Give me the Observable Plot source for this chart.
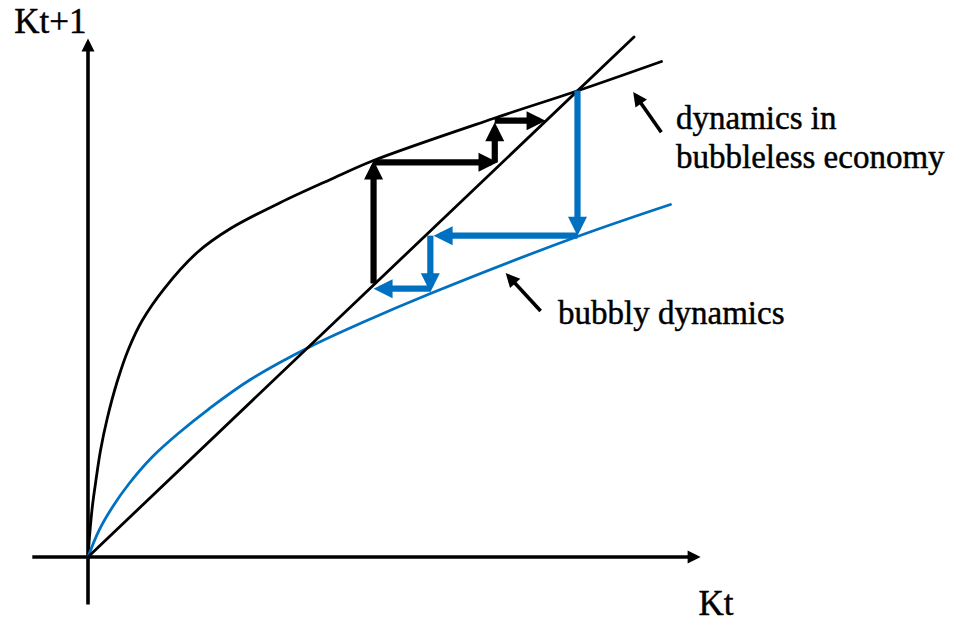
<!DOCTYPE html>
<html>
<head>
<meta charset="utf-8">
<script src="https://cdn.jsdelivr.net/npm/d3@7"></script>
<script src="https://cdn.jsdelivr.net/npm/@observablehq/plot@0.6"></script>
<style>
  html, body { margin: 0; padding: 0; background: #fff; }
  #chart svg { display: block; }
</style>
</head>
<body>
<div id="chart"></div>
<script>
// ---- Data (capital today Kt -> capital tomorrow Kt+1, diagram units, 45° line is y = x) ----
const bubblelessK    = [0, 0.37, 0.82, 1.37, 2.29, 3.52, 5.35, 7.47, 9.93, 13.83, 20.0, 26.1, 35.26, 44.41, 52.29, 74.27, 89.83, 105.04];
const bubblelessNext = [0, 5.10, 9.90, 14.13, 20.48, 26.63, 33.75, 40.10, 45.48, 51.44, 58.56, 63.17, 68.17, 72.6, 76.25, 84.33, 89.71, 95.29];

const bubblyK    = [0, 1.98, 4.43, 7.47, 11.76, 16.63, 22.12, 29.76, 40.75, 50.46, 62.73, 89.65, 106.68];
const bubblyNext = [0, 5.04, 9.52, 14.04, 19.23, 23.85, 28.46, 34.13, 40.48, 45.19, 50.67, 61.63, 67.79];

const diagonalK = [0, 100];

// cobweb steps: start (x1,y1) -> arrow tip (x2,y2)
const blackStepX1 = [52.3, 52.3, 74.5, 74.5];
const blackStepY1 = [52.6, 75.9, 75.9, 83.9];
const blackStepX2 = [52.3, 75.0, 74.5, 83.8];
const blackStepY2 = [76.25, 75.9, 83.6, 83.9];

const blueStepX1 = [89.65, 89.65, 62.7, 62.7];
const blueStepY1 = [89.7, 61.8, 61.8, 51.6];
const blueStepX2 = [89.65, 63.3, 62.7, 52.3];
const blueStepY2 = [61.8, 61.8, 50.9, 51.6];

// axes (x axis, y axis)
const axisX1 = [-10.2, 0];
const axisY1 = [0, -9.13];
const axisX2 = [112.2, 0];
const axisY2 = [0, 99.7];

// pointer arrows to the curve labels
const pointerX1 = [105.0, 82.9];
const pointerY1 = [81.7, 47.3];
const pointerX2 = [99.85, 76.5];
const pointerY2 = [89.4, 54.6];

// axis titles
const axisTitleText = ["Kt+1", "Kt"];
const axisTitleX = [-13.5, 111.8];
const axisTitleY = [100.7, -11.06];

// curve annotations
const noteText = ["dynamics in\nbubbleless economy", "bubbly dynamics"];
const noteX = [107.7, 86.1];
const noteY = [74.9, 44.9];

// ---- Layout ----
const W = 958, H = 626;
const OX = 87.5, OY = 556.5;   // origin in pixels
const PXX = 5.46, PXY = 5.2;   // pixels per unit
const BLUE = "#0070C0";
const ns = "http://www.w3.org/2000/svg";

function head(L, Wd, sw) {
  return (color, context) => {
    const doc = (context && context.document) || document;
    const m = doc.createElementNS(ns, "marker");
    m.setAttribute("viewBox", `0 ${-Wd} ${L} ${2 * Wd}`);
    m.setAttribute("markerUnits", "userSpaceOnUse");
    m.setAttribute("markerWidth", L);
    m.setAttribute("markerHeight", 2 * Wd);
    m.setAttribute("refX", L - sw);
    m.setAttribute("refY", 0);
    m.setAttribute("orient", "auto");
    m.setAttribute("overflow", "visible");
    const p = doc.createElementNS(ns, "path");
    p.setAttribute("d", `M0,${-Wd}L${L},0L0,${Wd}Z`);
    p.setAttribute("fill", color);
    p.setAttribute("stroke", "none");
    m.appendChild(p);
    return m;
  };
}

// shaft ends a little behind the tip so the filled head covers it
function segs(x1, y1, x2, y2, back) {
  return x1.map((_, i) => {
    const dxp = (x2[i] - x1[i]) * PXX, dyp = (y2[i] - y1[i]) * PXY;
    const len = Math.hypot(dxp, dyp);
    return {
      x1: x1[i], y1: y1[i],
      x2: x2[i] - (dxp / len) * back / PXX,
      y2: y2[i] - (dyp / len) * back / PXY
    };
  });
}

const bubbleless = bubblelessK.map((k, i) => ({k, v: bubblelessNext[i]}));
const bubbly = bubblyK.map((k, i) => ({k, v: bubblyNext[i]}));
const diagonal = diagonalK.map((k) => ({k, v: k}));
const axisTitles = axisTitleText.map((t, i) => ({t, x: axisTitleX[i], y: axisTitleY[i]}));
const notes = noteText.map((t, i) => ({t, x: noteX[i], y: noteY[i]}));

const axisSW = 3.6, stepSW = 6.2, ptrSW = 3.6;
const FONT = "'Liberation Serif', 'Times New Roman', serif";

const chart = Plot.plot({
  width: W,
  height: H,
  margin: 0,
  style: {background: "#fff", overflow: "visible"},
  x: {domain: [-OX / PXX, (W - OX) / PXX], range: [0, W], axis: null},
  y: {domain: [-(H - OY) / PXY, OY / PXY], range: [H, 0], axis: null},
  marks: [
    Plot.link(segs(axisX1, axisY1, axisX2, axisY2, axisSW), {
      x1: "x1", y1: "y1", x2: "x2", y2: "y2",
      stroke: "black", strokeWidth: axisSW, markerEnd: head(13, 6.5, axisSW)
    }),
    Plot.line(bubbleless, {x: "k", y: "v", curve: "catmull-rom", stroke: "black", strokeWidth: 2.8}),
    Plot.line(bubbly, {x: "k", y: "v", curve: "catmull-rom", stroke: BLUE, strokeWidth: 2.8}),
    Plot.line(diagonal, {x: "k", y: "v", stroke: "black", strokeWidth: 2.8}),
    Plot.link(segs(blackStepX1, blackStepY1, blackStepX2, blackStepY2, stepSW), {
      x1: "x1", y1: "y1", x2: "x2", y2: "y2",
      stroke: "black", strokeWidth: stepSW, markerEnd: head(19, 9.5, stepSW)
    }),
    Plot.link(segs(blueStepX1, blueStepY1, blueStepX2, blueStepY2, stepSW), {
      x1: "x1", y1: "y1", x2: "x2", y2: "y2",
      stroke: BLUE, strokeWidth: stepSW, markerEnd: head(19, 9.5, stepSW)
    }),
    Plot.link(segs(pointerX1, pointerY1, pointerX2, pointerY2, ptrSW), {
      x1: "x1", y1: "y1", x2: "x2", y2: "y2",
      stroke: "black", strokeWidth: ptrSW, markerEnd: head(14, 7, ptrSW)
    }),
    Plot.text(axisTitles, {
      x: "x", y: "y", text: "t",
      textAnchor: "start", lineAnchor: "bottom",
      fontSize: 35, fontFamily: FONT, fill: "black",
      stroke: "black", strokeWidth: 0.45
    }),
    Plot.text(notes, {
      x: "x", y: "y", text: "t",
      textAnchor: "start", lineAnchor: "bottom", lineHeight: 1.18,
      fontSize: 33, fontFamily: FONT, fill: "black",
      stroke: "black", strokeWidth: 0.45
    })
  ]
});

document.getElementById("chart").appendChild(chart);
</script>
</body>
</html>
